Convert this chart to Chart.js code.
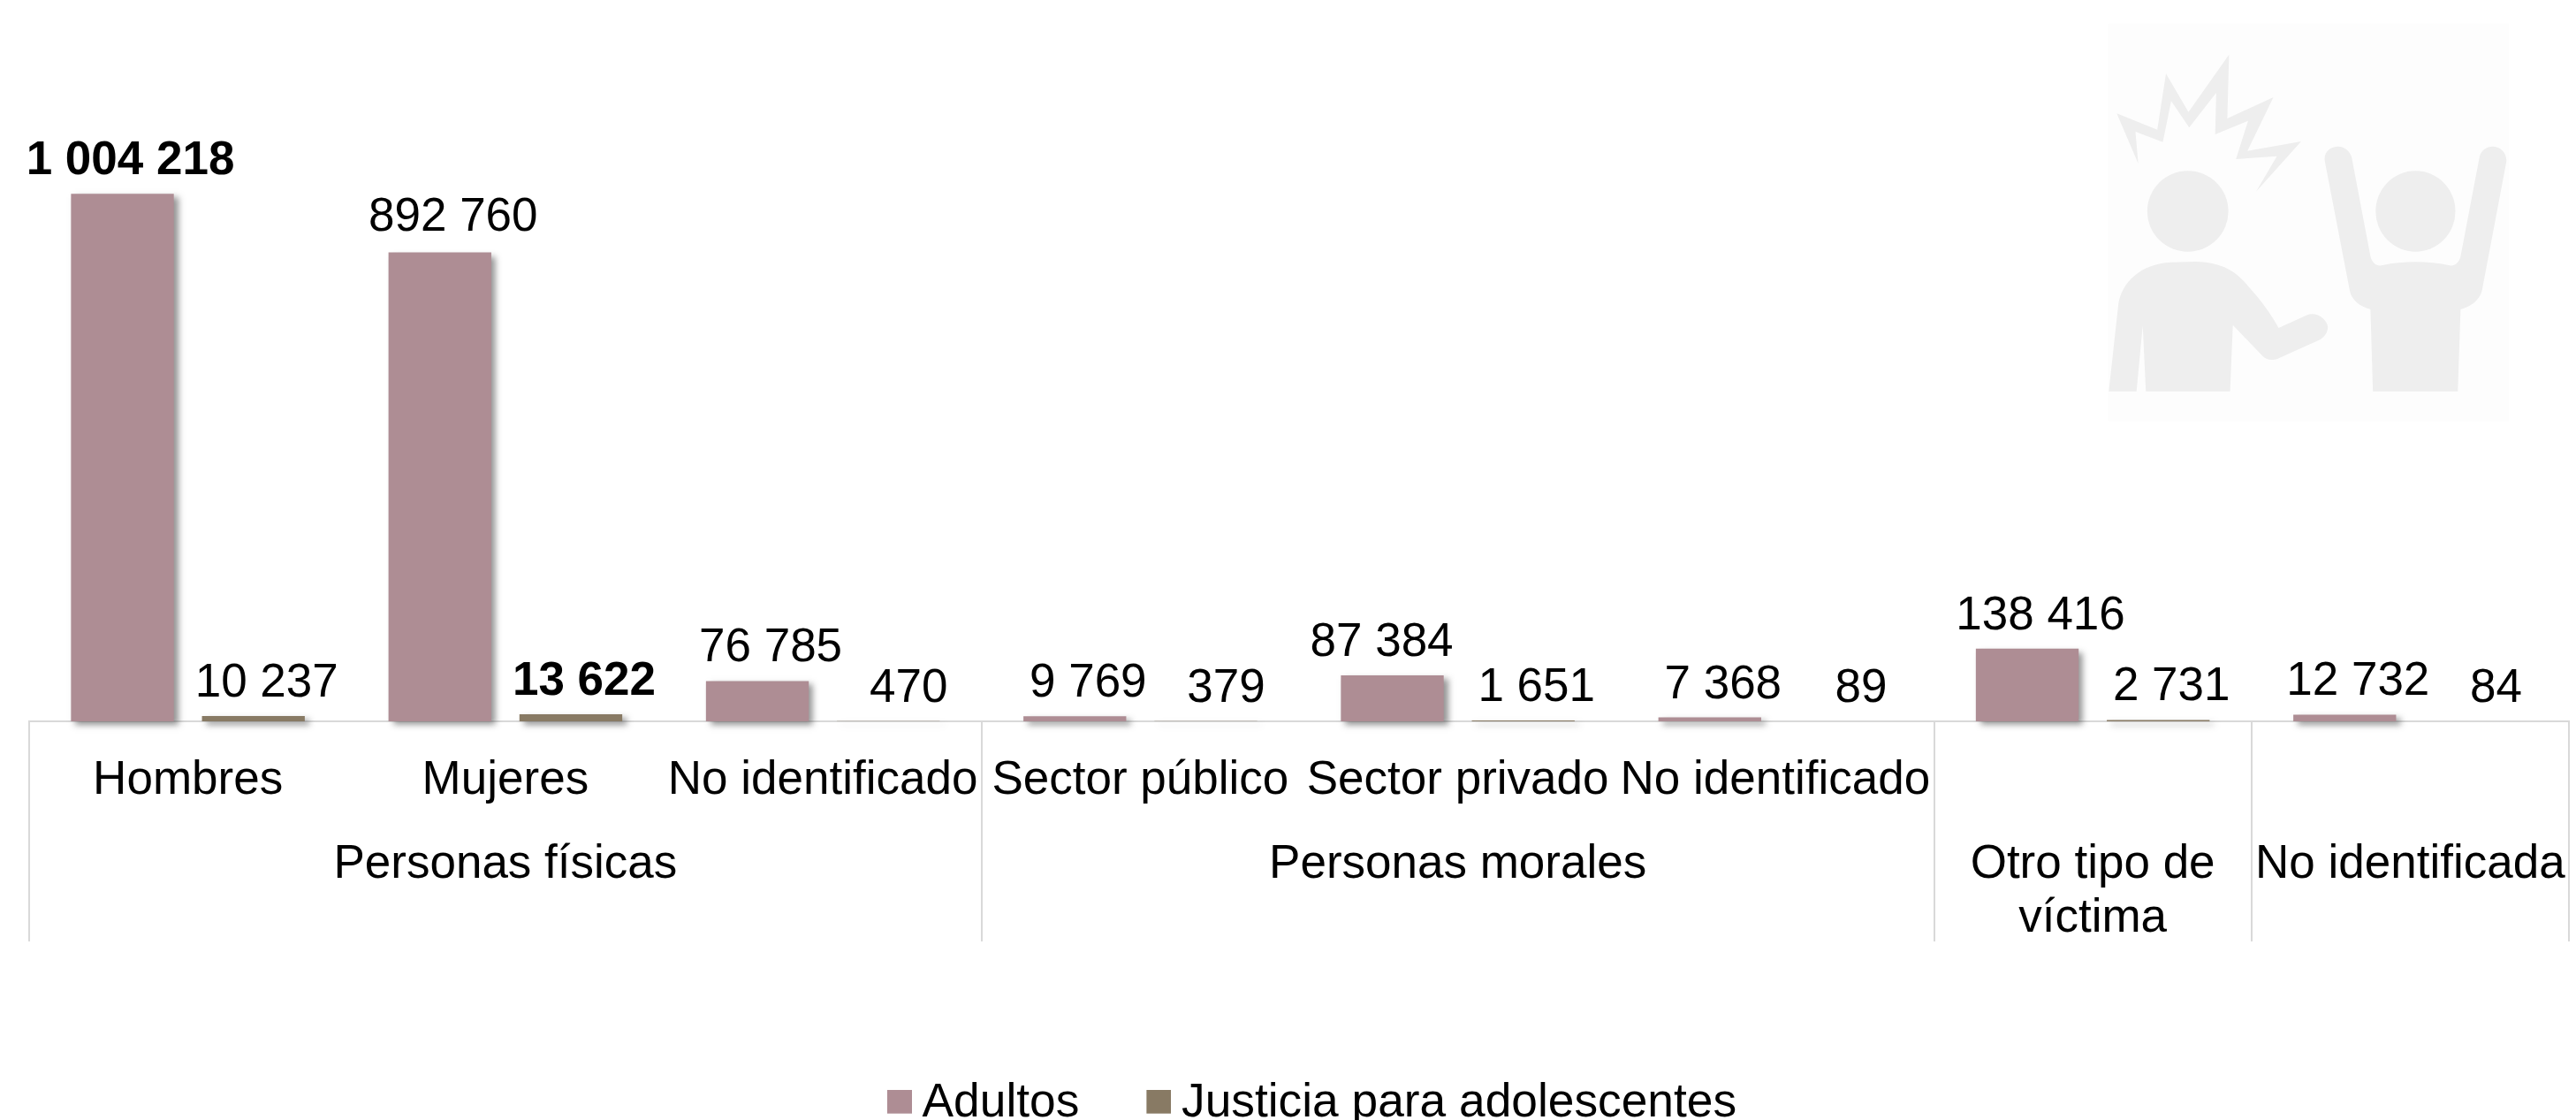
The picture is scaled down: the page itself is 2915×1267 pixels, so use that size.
<!DOCTYPE html>
<html lang="es">
<head>
<meta charset="utf-8">
<title>Víctimas</title>
<style>
html,body{margin:0;padding:0;background:#fff;overflow:hidden}
#wrap{position:relative;width:2915px;height:1267px}
#icon{position:absolute;left:2300px;top:0;width:615px;height:500px}
canvas{position:absolute;left:0;top:0}
</style>
<script src="https://cdn.jsdelivr.net/npm/chart.js@4/dist/chart.umd.min.js"></script>
</head>
<body>
<div id="wrap">
<svg id="icon" viewBox="0 0 1568 1500" preserveAspectRatio="none" xmlns="http://www.w3.org/2000/svg">
  <rect x="218" y="80" width="1157" height="1350" fill="#fdfdfd"/>
  <g fill="#eeeeee">
    <path d="M305,555 L243,385 L360,440 L385,250 L450,380 L567,185 L562,402 L695,330 L620,512 L775,480 L645,650 L705,530 L587,540 L622,410 L527,456 L530,315 L452,433 L400,343 L376,482 L297,447 Z"/>
    <ellipse cx="448" cy="717" rx="117" ry="137"/>
    <ellipse cx="1105" cy="717" rx="115" ry="137"/>
    <path d="M220,1328 L248,1030 C258,960 310,895 400,890 L470,888 C540,890 585,915 625,975 C660,1020 690,1070 710,1113 L790,1070 C820,1055 850,1085 852,1110 C852,1130 840,1148 825,1155 L712,1215 C695,1225 675,1222 665,1210 L578,1103 L570,1328 L327,1328 L318,1105 L300,1328 Z"/>
    <path d="M843,545 C840,515 860,497 882,497 C900,497 918,515 921,535 L975,870 C980,895 995,905 1010,900 C1070,885 1140,885 1200,900 C1215,905 1230,895 1235,870 L1290,530 C1295,510 1310,497 1328,497 C1350,497 1370,520 1367,550 L1297,985 C1290,1020 1265,1040 1235,1050 L1227,1328 L982,1328 L975,1050 C945,1040 920,1020 915,985 Z"/>
  </g>
</svg>
<canvas id="c" width="2915" height="1267"></canvas>
</div>
<script>
const categories = ['Hombres','Mujeres','No identificado','Sector público','Sector privado','No identificado','',''];
const adultos = [1004218,892760,76785,9769,87384,7368,138416,12732];
const adolescentes = [10237,13622,470,379,1651,89,2731,84];
const groupLabels = [['Personas físicas'],['Personas morales'],['Otro tipo de','víctima'],['No identificada']];
const groupStarts = [0,3,6,7];
const seriesNames = ['Adultos','Justicia para adolescentes'];
const seriesColors = ['#ae8d94','#887a64'];

const FONT = '"Liberation Sans", Arial, sans-serif';
const SIZE = 53;
const AXIS_Y = 816, SEP_LEN = 249;

function swatch(color){
  const s = document.createElement('canvas');
  s.width = 34; s.height = 31;
  const g = s.getContext('2d');
  g.fillStyle = color; g.fillRect(6,0,28,27);
  return s;
}
function fmt(v){ return String(v).replace(/\B(?=(\d{3})+(?!\d))/g,' '); }
function labelDx(v){
  if (v===adultos[0]) return 9;
  if (v===adultos[4]) return -12;
  return v<1000 ? 23 : 15;
}
function labelLift(v){ return v===adultos[1] ? 25 : 22; }

const shadowPlugin = {
  id:'barShadow',
  beforeDatasetDraw(chart){
    const c = chart.ctx; c.save();
    c.shadowColor='rgba(60,60,60,.55)'; c.shadowBlur=7; c.shadowOffsetX=5; c.shadowOffsetY=4;
  },
  afterDatasetDraw(chart){ chart.ctx.restore(); }
};
const valueLabels = {
  id:'valueLabels',
  afterDatasetsDraw(chart){
    const c = chart.ctx; c.save();
    c.fillStyle='#000'; c.textAlign='center'; c.textBaseline='alphabetic';
    chart.data.datasets.forEach((ds,d)=>{
      const max = Math.max(...ds.data);
      chart.getDatasetMeta(d).data.forEach((bar,i)=>{
        const v = ds.data[i];
        c.font = (v===max?'bold ':'')+SIZE+'px '+FONT;
        c.fillText(fmt(v), bar.x+labelDx(v), bar.y-labelLift(v));
      });
    });
    c.restore();
  }
};
const groupAxis = {
  id:'groupAxis',
  afterDraw(chart){
    const c = chart.ctx, x = chart.scales.x; c.save();
    c.fillStyle='#000'; c.textAlign='center'; c.textBaseline='alphabetic';
    c.font = SIZE+'px '+FONT;
    const half = (x.getPixelForValue(1)-x.getPixelForValue(0))/2;
    groupLabels.forEach((lines,g)=>{
      const from = x.getPixelForValue(groupStarts[g])-half;
      const last = (g+1<groupStarts.length?groupStarts[g+1]:categories.length)-1;
      const to = x.getPixelForValue(last)+half;
      lines.forEach((l,k)=>c.fillText(l,(from+to)/2,992.5+k*61));
    });
    c.restore();
  }
};
const legendPlace = {
  id:'legendPlace',
  afterLayout(chart){
    const l = chart.legend;
    l.top = 1136.5; l.left += 19; l.right += 19;
  }
};

new Chart(document.getElementById('c'),{
  type:'bar',
  data:{labels:categories,datasets:[
    {label:seriesNames[0],data:adultos,backgroundColor:seriesColors[0],clip:false},
    {label:seriesNames[1],data:adolescentes,backgroundColor:seriesColors[1],clip:false}
  ]},
  plugins:[shadowPlugin,valueLabels,groupAxis,legendPlace],
  options:{
    responsive:false,animation:false,devicePixelRatio:1,
    categoryPercentage:0.825,barPercentage:0.785,
    layout:{padding:{left:33,right:8,top:103,bottom:0}},
    plugins:{
      tooltip:{enabled:false},
      legend:{
        position:'bottom',
        labels:{
          usePointStyle:true,pointStyleWidth:4,boxHeight:27,
          padding:85,color:'#000',font:{family:FONT,size:53.3},
          generateLabels(chart){
            return Chart.defaults.plugins.legend.labels.generateLabels(chart)
              .map((it,i)=>Object.assign(it,{pointStyle:swatch(seriesColors[i])}));
          }
        }
      }
    },
    scales:{
      y:{display:false,min:0,max:1200000},
      x:{
        type:'category',offset:true,
        afterFit(s){ s.height = 1267-AXIS_Y-s.chart.legend.height; },
        border:{display:true,color:'#d9d9d9',width:2},
        grid:{offset:true,drawOnChartArea:false,drawTicks:true,tickLength:SEP_LEN,lineWidth:2,
          tickColor:ctx=>(ctx.type==='scale'||groupStarts.includes(ctx.index))?'#d9d9d9':'rgba(0,0,0,0)'},
        ticks:{autoSkip:false,minRotation:0,maxRotation:0,padding:36-SEP_LEN,color:'#000',font:{family:FONT,size:SIZE}}
      }
    }
  }
});
</script>
</body>
</html>
